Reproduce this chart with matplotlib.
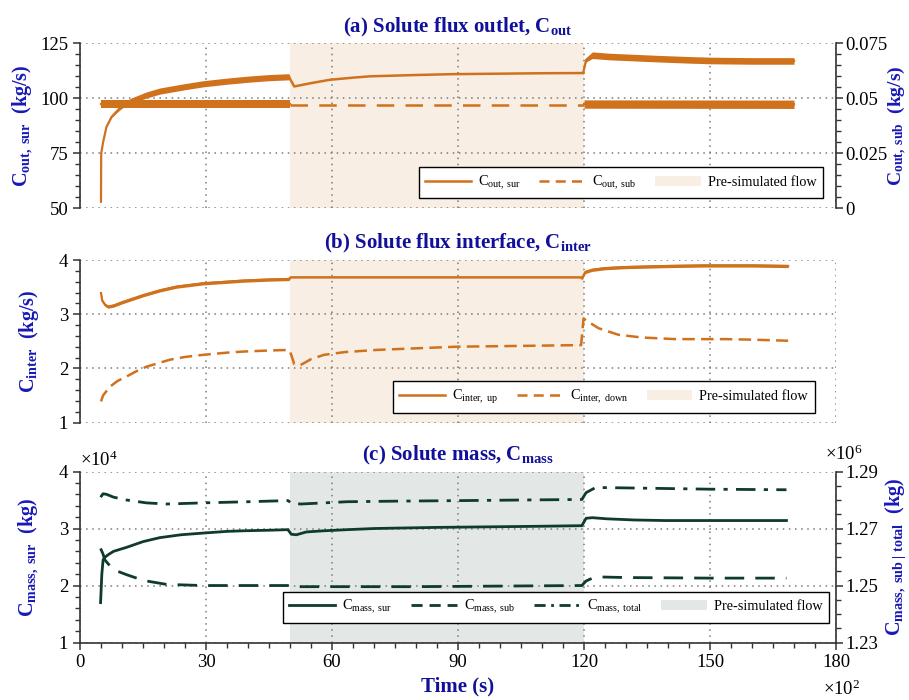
import matplotlib.pyplot as plt
from matplotlib.lines import Line2D
from matplotlib.patches import Patch
from matplotlib.ticker import MultipleLocator

plt.rcParams['font.family'] = 'Liberation Serif'
plt.rcParams['mathtext.fontset'] = 'custom'
plt.rcParams['mathtext.rm'] = 'Liberation Serif'
plt.rcParams['mathtext.bf'] = 'Liberation Serif:bold'
plt.rcParams['mathtext.it'] = 'Liberation Serif:italic'

# time in units of 10^2 s
# ---- (a) solute flux outlet (left: sur, right: sub) ----
t_sur_pre = [5.0, 5.05, 5.5, 6.3, 7.5, 8.7, 10.0, 12.0, 15.8, 19.0, 25.0, 29.3, 35.0, 40.0, 45.0, 49.8]
sur_pre = [53, 75, 80, 87, 91.5, 94, 96.5, 98.8, 101.5, 103.3, 105.3, 106.6, 107.8, 108.7, 109.4, 109.8]
sur_pre_nw = [0, 0, 0, 0, 0.3, 0.6, 1.0, 1.2, 1.4, 1.4, 1.4, 1.4, 1.4, 1.4, 1.4, 1.4]
t_sur_sim = [49.8, 51.0, 55.0, 59.4, 65.0, 69.0, 80.0, 89.0, 100.0, 110.0, 119.8]
sur_sim = [109.6, 105.4, 106.9, 108.4, 109.4, 110.0, 110.6, 111.0, 111.2, 111.4, 111.5]
t_sur_post = [119.8, 120.5, 122.0, 126.0, 132.0, 138.0, 145.0, 150.0, 160.0, 170.0]
sur_post = [111.5, 117.5, 119.6, 119.0, 118.5, 118.0, 117.5, 117.2, 117.0, 117.0]
sur_post_nw = [0, 1.0, 1.5, 1.5, 1.5, 1.5, 1.5, 1.5, 1.5, 1.5]

t_sub_pre = [5.0, 50.0]
sub_pre = [0.0473, 0.0473]
t_sub_sim = [50.0, 120.0]
sub_sim = [0.0470, 0.0470]
t_sub_post = [120.0, 170.0]
sub_post = [0.0474, 0.0473]
sub_nw = 0.0019

# ---- (b) solute flux interface ----
t_up_pre = [5.0, 5.3, 6.0, 6.7, 8.0, 10.0, 15.0, 19.0, 23.0, 29.3, 35.0, 38.8, 45.0, 49.8]
up_pre = [3.39, 3.25, 3.17, 3.14, 3.16, 3.22, 3.35, 3.44, 3.51, 3.57, 3.60, 3.62, 3.64, 3.65]
t_up_sim = [49.8, 50.2, 119.5]
up_sim = [3.65, 3.68, 3.68]
t_up_post = [119.5, 120.3, 121.9, 125.0, 129.8, 135.0, 140.0, 148.8, 160.0, 168.6]
up_post = [3.66, 3.78, 3.82, 3.85, 3.87, 3.88, 3.89, 3.90, 3.90, 3.89]
up_nw = 0.03

t_down = [5.0, 5.5, 7.1, 9.0, 11.1, 13.5, 15.8, 21.4, 25.0, 29.3, 35.0, 38.8, 45.0, 49.8,
          50.3, 51.0, 52.5, 55.0, 58.1, 63.0, 70.5, 80.0, 89.8, 100.0, 110.0, 119.3,
          119.9, 121.0, 123.5, 128.2, 133.8, 141.7, 153.6, 160.0, 168.6]
down = [1.39, 1.50, 1.66, 1.77, 1.85, 1.95, 2.03, 2.16, 2.21, 2.25, 2.29, 2.31, 2.33, 2.34,
        2.25, 2.08, 2.06, 2.17, 2.25, 2.30, 2.34, 2.37, 2.40, 2.41, 2.42, 2.43,
        2.92, 2.86, 2.74, 2.62, 2.57, 2.54, 2.54, 2.53, 2.51]

# ---- (c) solute mass (left x10^4 kg, right x10^6 kg) ----
t_msur = [4.9, 5.2, 5.5, 6.0, 6.7, 8.0, 11.1, 15.0, 19.0, 24.0, 29.3, 35.0, 38.8, 45.0, 49.5,
          50.3, 51.5, 53.9, 58.0, 63.6, 70.0, 77.4, 85.0, 98.0, 110.0, 119.5,
          120.5, 122.0, 125.5, 132.0, 139.3, 150.0, 160.0, 168.2]
msur = [1.70, 2.20, 2.45, 2.50, 2.54, 2.60, 2.67, 2.77, 2.84, 2.89, 2.92, 2.95, 2.96, 2.97, 2.98,
        2.90, 2.89, 2.94, 2.96, 2.98, 3.00, 3.01, 3.02, 3.03, 3.04, 3.05,
        3.18, 3.19, 3.17, 3.15, 3.14, 3.14, 3.14, 3.14]
t_msub = [4.9, 5.5, 5.9, 7.9, 11.1, 13.5, 15.8, 20.6, 29.3, 40.0, 49.5, 50.5, 60.0, 80.0, 100.0,
          119.5, 120.5, 122.0, 124.0, 130.0, 150.0, 168.2]
msub = [1.2630, 1.2610, 1.2590, 1.2556, 1.2538, 1.2526, 1.2516, 1.2504, 1.2500, 1.2500, 1.2500,
        1.2496, 1.2496, 1.2496, 1.2498, 1.2500, 1.2516, 1.2526, 1.2530, 1.2528, 1.2526, 1.2526]
t_mtot = [4.9, 5.5, 6.3, 8.0, 11.1, 15.8, 20.6, 25.0, 29.3, 40.0, 49.5, 50.5, 52.6, 63.6, 75.0,
          91.0, 105.0, 119.5, 120.5, 122.8, 132.4, 150.0, 168.2]
mtot = [1.2810, 1.2822, 1.2820, 1.2810, 1.2800, 1.2790, 1.2786, 1.2788, 1.2790, 1.2794, 1.2798,
        1.2788, 1.2786, 1.2794, 1.2796, 1.2798, 1.2800, 1.2802, 1.2826, 1.2844, 1.2842, 1.2838, 1.2836]

sim_start, sim_end = 50, 120

ORANGE = '#D0711C'
GREEN = '#0E3B2C'
SHADE_A = '#F8EEE3'
SHADE_C = '#E3E8E7'
NAVY = '#10109A'
BLUE = '#1818B8'
SPINE = '#333333'
TICK_FS = 13.5
LAB_FS = 14.5
TITLE_FS = 15
GRID_LS = (0, (1, 3))


def style(ax, show_x=False):
    ax.set_xlim(0, 180)
    ax.xaxis.set_major_locator(MultipleLocator(30))
    ax.set_axisbelow(True)
    ax.grid(True, which='major', ls=GRID_LS, color='#7a7a7a', lw=1.1)
    for s in ['top', 'right']:
        ax.spines[s].set_visible(False)
    ax.spines['left'].set_color(SPINE)
    ax.spines['left'].set_linewidth(1.2)
    if show_x:
        ax.spines['bottom'].set_color(SPINE)
        ax.spines['bottom'].set_linewidth(1.2)
        ax.xaxis.set_minor_locator(MultipleLocator(5))
        ax.tick_params(axis='x', which='both', direction='out', color=SPINE, labelsize=TICK_FS)
        ax.tick_params(axis='x', which='major', length=5, width=1.1)
        ax.tick_params(axis='x', which='minor', length=3.5, width=1.0)
    else:
        ax.spines['bottom'].set_visible(False)
        ax.tick_params(axis='x', which='both', bottom=False, labelbottom=False)
    ax.tick_params(axis='y', which='both', direction='out', color=SPINE, labelsize=TICK_FS)
    ax.tick_params(axis='y', which='major', length=5, width=1.1)
    ax.tick_params(axis='y', which='minor', length=3.5, width=1.0)


def style_right(ax):
    for s in ['top', 'left', 'bottom']:
        ax.spines[s].set_visible(False)
    ax.spines['right'].set_color(SPINE)
    ax.spines['right'].set_linewidth(1.2)
    ax.tick_params(axis='y', which='both', direction='out', color=SPINE, labelsize=TICK_FS, pad=1.5)
    ax.tick_params(axis='y', which='major', length=5, width=1.1)
    ax.tick_params(axis='y', which='minor', length=3.5, width=1.0)
    ax.tick_params(axis='x', which='both', bottom=False, top=False, labelbottom=False)


def band(ax, t, c, nw, color):
    if isinstance(nw, (int, float)):
        nw = [nw] * len(t)
    lo = [v - w for v, w in zip(c, nw)]
    hi = [v + w for v, w in zip(c, nw)]
    ax.fill_between(t, lo, hi, color=color, lw=0, zorder=2)
    ax.plot(t, c, color=color, lw=1.6, zorder=3)


def legend_box(ax, handles, anchor, ncol=3):
    leg = ax.legend(handles=handles, loc='lower right', bbox_to_anchor=anchor, ncol=ncol,
                    fontsize=10.3, frameon=True, fancybox=False, framealpha=1,
                    edgecolor='black', handlelength=3.2, columnspacing=1.3,
                    borderpad=0.45, handletextpad=0.5, borderaxespad=0)
    leg.get_frame().set_linewidth(1.0)
    leg.set_zorder(10)


fig = plt.figure(figsize=(9.09, 7.0), dpi=100)

# ---------------- (a) ----------------
ax_a = fig.add_axes([0.088, 0.7024, 0.8317, 0.2357])
style(ax_a)
ax_a.axvspan(sim_start, sim_end, color=SHADE_A, lw=0, zorder=0)
ax_a.set_ylim(50, 125)
ax_a.set_yticks([50, 75, 100, 125])
ax_a.yaxis.set_minor_locator(MultipleLocator(5))
band(ax_a, t_sur_pre, sur_pre, sur_pre_nw, ORANGE)
ax_a.plot(t_sur_sim, sur_sim, color=ORANGE, lw=1.8, zorder=3)
band(ax_a, t_sur_post, sur_post, sur_post_nw, ORANGE)
ax_a.set_ylabel(r'$\mathbf{C}_{\mathbf{out,\ sur}}$  (kg/s)', color=BLUE, fontsize=LAB_FS,
                fontweight='bold', labelpad=4)
ax_a.set_title(r'(a) Solute flux outlet, $\mathbf{C}_{\mathbf{out}}$', color=NAVY,
               fontsize=TITLE_FS, fontweight='bold', pad=8)

ax_a2 = ax_a.twinx()
style_right(ax_a2)
ax_a2.set_ylim(0, 0.075)
ax_a2.set_yticks([0, 0.025, 0.05, 0.075])
ax_a2.set_yticklabels(['0', '0.025', '0.05', '0.075'])
ax_a2.yaxis.set_minor_locator(MultipleLocator(0.005))
band(ax_a2, t_sub_pre, sub_pre, sub_nw, ORANGE)
ax_a2.plot(t_sub_sim, sub_sim, color=ORANGE, lw=1.8, ls=(0, (7, 4.5)), zorder=3)
band(ax_a2, t_sub_post, sub_post, sub_nw, ORANGE)
ax_a2.set_ylabel(r'$\mathbf{C}_{\mathbf{out,\ sub}}$  (kg/s)', color=BLUE, fontsize=14,
                 fontweight='bold', labelpad=-1)
legend_box(ax_a2, [
    Line2D([], [], color=ORANGE, lw=1.8, label=r'C$_{\mathrm{out,\ sur}}$'),
    Line2D([], [], color=ORANGE, lw=1.8, ls=(0, (4, 2.5)), label=r'C$_{\mathrm{out,\ sub}}$'),
    Patch(facecolor=SHADE_A, edgecolor='none', label='Pre-simulated flow'),
], (0.983, 0.06))

# ---------------- (b) ----------------
ax_b = fig.add_axes([0.088, 0.3964, 0.8317, 0.2321])
style(ax_b)
ax_b.axvspan(sim_start, sim_end, color=SHADE_A, lw=0, zorder=0)
ax_b.set_ylim(1, 4)
ax_b.set_yticks([1, 2, 3, 4])
ax_b.yaxis.set_minor_locator(MultipleLocator(0.2))
band(ax_b, t_up_pre, up_pre, up_nw, ORANGE)
ax_b.plot(t_up_sim, up_sim, color=ORANGE, lw=1.8, zorder=3)
band(ax_b, t_up_post, up_post, up_nw, ORANGE)
ax_b.plot(t_down, down, color=ORANGE, lw=1.8, ls=(0, (5, 2.5)), zorder=3)
ax_b.set_ylabel(r'$\mathbf{C}_{\mathbf{inter}}$  (kg/s)', color=BLUE, fontsize=LAB_FS,
                fontweight='bold', labelpad=13)
ax_b.set_title(r'(b) Solute flux interface, $\mathbf{C}_{\mathbf{inter}}$', color=NAVY,
               fontsize=TITLE_FS, fontweight='bold', pad=8)
legend_box(ax_b, [
    Line2D([], [], color=ORANGE, lw=1.8, label=r'C$_{\mathrm{inter,\ up}}$'),
    Line2D([], [], color=ORANGE, lw=1.8, ls=(0, (4, 2.5)), label=r'C$_{\mathrm{inter,\ down}}$'),
    Patch(facecolor=SHADE_A, edgecolor='none', label='Pre-simulated flow'),
], (0.9716, 0.06))

# ---------------- (c) ----------------
ax_c = fig.add_axes([0.088, 0.0821, 0.8317, 0.2443])
style(ax_c, show_x=True)
ax_c.axvspan(sim_start, sim_end, color=SHADE_C, lw=0, zorder=0)
ax_c.set_ylim(1, 4)
ax_c.set_yticks([1, 2, 3, 4])
ax_c.yaxis.set_minor_locator(MultipleLocator(0.2))
ax_c.set_xticks([0, 30, 60, 90, 120, 150, 180])
ax_c.plot(t_msur, msur, color=GREEN, lw=2.0, zorder=3)
ax_c.set_ylabel(r'$\mathbf{C}_{\mathbf{mass,\ sur}}$  (kg)', color=BLUE, fontsize=LAB_FS,
                fontweight='bold', labelpad=13)
ax_c.set_xlabel('Time (s)', color=NAVY, fontsize=15, fontweight='bold', labelpad=4)
ax_c.set_title(r'(c) Solute mass, $\mathbf{C}_{\mathbf{mass}}$', color=NAVY,
               fontsize=TITLE_FS, fontweight='bold', pad=8)
ax_c.text(0.0, 1.01, r'$\times10^{4}$', transform=ax_c.transAxes, ha='left', va='bottom',
          fontsize=TICK_FS)

ax_c2 = ax_c.twinx()
style_right(ax_c2)
ax_c2.set_ylim(1.23, 1.29)
ax_c2.set_yticks([1.23, 1.25, 1.27, 1.29])
ax_c2.set_yticklabels(['1.23', '1.25', '1.27', '1.29'])
ax_c2.yaxis.set_minor_locator(MultipleLocator(0.005))
ax_c2.plot(t_msub, msub, color=GREEN, lw=2.0, ls=(0, (7, 4)), zorder=3)
ax_c2.plot(t_mtot, mtot, color=GREEN, lw=2.0, ls=(0, (7, 3, 1.5, 3)), zorder=3)
ax_c2.set_ylabel(r'$\mathbf{C}_{\mathbf{mass,\ sub\ |\ total}}$  (kg)', color=BLUE,
                 fontsize=LAB_FS, fontweight='bold', labelpad=4)
ax_c2.text(0.985, 1.045, r'$\times10^{6}$', transform=ax_c2.transAxes, ha='left', va='bottom',
           fontsize=TICK_FS)
legend_box(ax_c2, [
    Line2D([], [], color=GREEN, lw=2.0, label=r'C$_{\mathrm{mass,\ sur}}$'),
    Line2D([], [], color=GREEN, lw=2.0, ls=(0, (4, 2.5)), label=r'C$_{\mathrm{mass,\ sub}}$'),
    Line2D([], [], color=GREEN, lw=2.0, ls=(0, (4, 2, 1, 2)), label=r'C$_{\mathrm{mass,\ total}}$'),
    Patch(facecolor=SHADE_C, edgecolor='none', label='Pre-simulated flow'),
], (0.9907, 0.116), ncol=4)

fig.text(0.905, 0.002, r'$\times10^{2}$', ha='left', va='bottom', fontsize=TICK_FS)

fig.savefig('out.png', dpi=100)
